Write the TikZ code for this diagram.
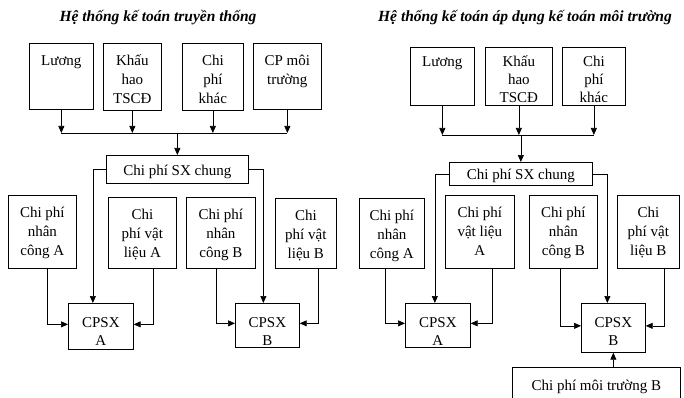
\documentclass[tikz,border=0pt]{standalone}
\usepackage{fontspec}
\setmainfont{Liberation Serif}
\usetikzlibrary{arrows.meta}
\newcommand{\bt}[5][19]{\parbox[c][#3pt][t]{#2pt}{\centering\fontsize{15pt}{#1pt}\selectfont\rule{0pt}{#4pt}#5}}
\begin{document}
\begin{tikzpicture}[x=1pt,y=-1pt,
  box/.style={draw, inner sep=0pt, anchor=north west, line width=0.7pt},
  arr/.style={-{Triangle[length=7pt,width=6pt]}, line width=0.7pt},
  ln/.style={line width=0.7pt},
  ttl/.style={font=\bfseries\itshape\fontsize{15.5pt}{17pt}\selectfont, anchor=base, inner sep=0pt}]
\useasboundingbox (0,0) rectangle (684,398);
% ---------- left panel ----------
\node[ttl] (t1) at (158,22) {Hệ thống kế toán truyền thống};
\node[box] (l1) at (29,43) {\bt{64}{66}{22}{Lương}};
\node[box] (l2) at (103,43) {\bt{58}{67}{22}{Khấu\\hao\\TSCĐ}};
\node[box] (l3) at (182,43) {\bt{61}{67}{22}{Chi\\phí\\khác}};
\node[box] (l4) at (253,43) {\bt{68}{66}{22}{CP môi\\trường}};
\node[box] (sx) at (106,155) {\bt{142}{28}{20}{Chi phí SX chung}};
\node[box] (nA) at (8,195) {\bt{68}{73}{22}{Chi phí\\nhân\\công A}};
\node[box] (vA) at (108,197) {\bt{68}{71}{22}{Chi\\phí vật\\liệu A}};
\node[box] (nB) at (186,197) {\bt{69}{71}{22}{Chi phí\\nhân\\công B}};
\node[box] (vB) at (275,198) {\bt{61}{70}{22}{Chi\\phí vật\\liệu B}};
\node[box] (ca) at (68,303) {\bt[18]{65}{46}{24}{CPSX\\A}};
\node[box] (cb) at (235,303) {\bt[18]{64}{44}{24}{CPSX\\B}};
\coordinate (bL) at (0,133);
\draw[ln] (l1.south |- bL) -- (l4.south |- bL);
\foreach \n in {l1,l2,l3,l4} \draw[arr] (\n.south) -- (\n.south |- bL);
\draw[arr] (sx.north |- bL) -- (sx.north);
\draw[arr] (sx.west) -| ([xshift=-8pt]ca.north);
\draw[arr] (sx.east) -| ([xshift=-4pt]cb.north);
\draw[arr] ([xshift=5pt]nA.south) |- ([yshift=2pt]ca.west);
\draw[arr] ([xshift=11pt]vA.south) |- ([yshift=2pt]ca.east);
\draw[arr] ([xshift=-5pt]nB.south) |- ([yshift=2pt]cb.west);
\draw[arr] ([xshift=12pt]vB.south) |- ([yshift=2pt]cb.east);
% ---------- right panel ----------
\node[ttl] (t2) at (525,22) {Hệ thống kế toán áp dụng kế toán môi trường};
\node[box] (r1) at (410,47) {\bt[18]{64}{58}{19}{Lương}};
\node[box] (r2) at (485,47) {\bt[18]{67}{58}{19}{Khấu\\hao\\TSCĐ}};
\node[box] (r3) at (562,47) {\bt[18]{63}{58}{19}{Chi\\phí\\khác}};
\node[box] (sx2) at (449,162) {\bt{143}{23}{17}{Chi phí SX chung}};
\node[box] (nA2) at (359,198) {\bt{65}{70}{22}{Chi phí\\nhân\\công A}};
\node[box] (vA2) at (445,195) {\bt{69}{73}{22}{Chi phí\\vật liệu\\A}};
\node[box] (nB2) at (529,195) {\bt{68}{73}{22}{Chi phí\\nhân\\công B}};
\node[box] (vB2) at (617,195) {\bt{62}{73}{22}{Chi\\phí vật\\liệu B}};
\node[box] (ra) at (405,303) {\bt[18]{65}{44}{24}{CPSX\\A}};
\node[box] (rb) at (581,303) {\bt[18]{64}{49}{24}{CPSX\\B}};
\node[box] (env) at (512,367) {\bt{168}{31}{23}{Chi phí môi trường B}};
\coordinate (bR) at (0,135);
\draw[ln] (r1.south |- bR) -- (r3.south |- bR);
\foreach \n in {r1,r2,r3} \draw[arr] (\n.south) -- (\n.south |- bR);
\draw[arr] (sx2.north |- bR) -- (sx2.north);
\draw[arr] (sx2.west) -| ([xshift=-3pt]ra.north);
\draw[arr] (sx2.east) -| ([xshift=-6pt]rb.north);
\draw[arr] ([xshift=-7pt]nA2.south) |- ([yshift=2pt]ra.west);
\draw[arr] ([xshift=12pt]vA2.south) |- ([yshift=2pt]ra.east);
\draw[arr] ([xshift=-3pt]nB2.south) |- ([yshift=2pt]rb.west);
\draw[arr] ([xshift=16pt]vB2.south) |- ([yshift=2pt]rb.east);
\draw[arr] (env.north -| rb.south) -- (rb.south);
\end{tikzpicture}
\end{document}
